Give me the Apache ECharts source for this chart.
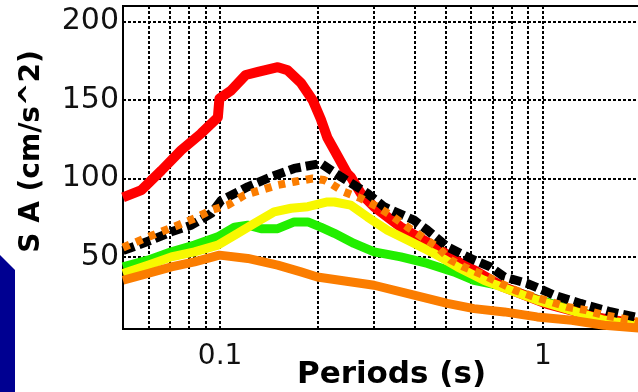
<!DOCTYPE html>
<html>
<head>
<meta charset="utf-8">
<script src="https://cdn.jsdelivr.net/npm/echarts@6/dist/echarts.min.js"></script>
<style>html,body{margin:0;padding:0;background:#fff}#c{width:638px;height:392px}</style>
</head>
<body>
<div id="c"></div>
<script>
// Period (s), SA (cm/s^2) pairs
const redSeries = [[0.05,88],[0.057,92.6],[0.0657,105],[0.0757,118],[0.0873,128.7],[0.0984,139],[0.0995,151],[0.108,156],[0.12,166],[0.131,168],[0.151,171],[0.162,169],[0.178,161],[0.1935,150],[0.205,138],[0.215,126],[0.226,118],[0.248,103],[0.254,101],[0.273,90.5],[0.3,82],[0.363,69],[0.45,58],[0.556,46],[0.612,41.5],[0.75,31],[1.03,20],[1.5,11],[2,7]];
const blackDashed = [[0.05,54],[0.0612,60.7],[0.0706,66],[0.0814,70.2],[0.0938,77.7],[0.1007,86],[0.1218,94.7],[0.1437,101],[0.1697,106.4],[0.2054,109.6],[0.237,101],[0.286,90.5],[0.322,82],[0.399,73.4],[0.439,67],[0.506,56.4],[0.612,48],[0.688,43.6],[0.76,37.2],[0.897,33],[1.085,25.6],[1.31,20.3],[1.62,15],[2,11]];
const orangeDotted = [[0.05,56],[0.0583,61.7],[0.0657,66],[0.074,70.2],[0.0833,74.5],[0.0938,79.8],[0.1056,83],[0.1189,89.4],[0.1339,92.6],[0.1508,95.8],[0.1697,97.9],[0.1935,100],[0.21,99],[0.22,96.8],[0.242,91.5],[0.273,87.3],[0.307,82],[0.338,76.6],[0.381,69],[0.47,56.4],[0.518,48],[0.569,43.6],[0.657,38.3],[0.742,33],[0.82,28.8],[0.94,24.5],[1.06,21.3],[1.19,18.1],[1.36,16],[1.55,12.8],[1.76,10.7],[2,8.5]];
const yellowSeries = [[0.05,39.4],[0.0597,44.7],[0.0706,50],[0.0833,53.2],[0.0984,57.5],[0.1134,65],[0.1277,71.3],[0.147,78.7],[0.166,81],[0.187,82],[0.215,85],[0.226,85],[0.254,83],[0.286,75.5],[0.33,67],[0.39,59.6],[0.46,52.2],[0.544,43.6],[0.657,35.1],[0.742,30.9],[0.96,22.4],[1.55,9.6],[2,6.4]];
const greenSeries = [[0.05,43.6],[0.0597,47.9],[0.0706,53.2],[0.0833,57.5],[0.0984,62.8],[0.1108,69],[0.1218,70.2],[0.1339,68],[0.1508,68],[0.1697,72.3],[0.187,72.3],[0.205,69],[0.226,65],[0.26,58.6],[0.3,53.2],[0.363,50],[0.439,45.8],[0.53,40.4],[0.612,35.1],[0.742,31.5],[0.96,23],[1.55,10.5],[2,7]];
const orangeSolid = [[0.05,35.1],[0.0597,39.4],[0.0706,43.6],[0.0833,46.8],[0.0995,51.1],[0.1218,49],[0.1508,44.7],[0.178,40.4],[0.2,37.2],[0.3,31.9],[0.399,25.6],[0.506,20.3],[0.612,17],[0.76,14.9],[0.96,11.7],[1.23,9.6],[1.55,6.4],[2,4.5]];

const xGridValues = [0.06,0.07,0.08,0.09,0.1,0.2,0.3,0.4,0.5,0.6,0.7,0.8,0.9,1];
const yTickValues = [50,100,150,200];
const xLabelValues = [0.1,1];

const chart = echarts.init(document.getElementById('c'), null, {renderer:'canvas'});
const gridLine = {color:'#000', type:[3,2], width:2};
function line(name, data, color, type, width, z) {
  return {name, type:'line', data, showSymbol:false, symbol:'none', z,
    lineStyle:{color, width, type, cap:'butt', join:'round'}, animation:false, silent:true};
}
const series = [
  {type:'line', data:[], z:1, silent:true, animation:false,
   markLine:{silent:true, animation:false, symbol:['none','none'], label:{show:false}, z:1,
     lineStyle:gridLine,
     data: xGridValues.map(v=>({xAxis:v})).concat(yTickValues.map(v=>({yAxis:v})))}},
  line('green', greenSeries, '#22ee00', 'solid', 9, 2),
  line('red', redSeries, '#ff0000', 'solid', 10, 3),
  line('yellow', yellowSeries, '#f8f800', 'solid', 9, 4),
  line('orange', orangeSolid, '#fb7d00', 'solid', 9, 5),
  line('black', blackDashed, '#000000', [12,5], 9, 6),
  line('orangeDotted', orangeDotted, '#fb7d00', [7,7], 8, 7)
];
chart.setOption({
  animation:false,
  backgroundColor:'#fff',
  grid:{left:123, top:6, right:-4, bottom:63, show:true, borderColor:'#000', borderWidth:2,
    containLabel:false, outerBoundsMode:'none'},
  xAxis:{type:'log', logBase:10, min:0.05, max:2.03,
    name:'Periods (s)', nameLocation:'middle', nameGap:30, nameMoveOverlap:false,
    nameTextStyle:{fontFamily:'DejaVu Sans', fontWeight:'bold', fontSize:31, color:'#000', padding:[0,0,0,18]},
    axisLine:{show:true, lineStyle:{color:'#000', width:2}},
    axisTick:{show:false}, splitLine:{show:false},
    axisLabel:{showMinLabel:false, showMaxLabel:false, fontFamily:'DejaVu Sans', fontSize:28, color:'#111', margin:14,
      formatter:v => xLabelValues.some(t=>Math.abs(t-v)<1e-9) ? String(v) : ''}},
  yAxis:{type:'value', min:4, max:210,
    name:'S A (cm/s^2)', nameLocation:'middle', nameGap:77, nameRotate:90, nameMoveOverlap:false,
    nameTextStyle:{fontFamily:'DejaVu Sans', fontWeight:'bold', fontSize:28, color:'#000', padding:[0,0,0,32]},
    axisLine:{show:true, lineStyle:{color:'#000', width:2}},
    axisTick:{show:false, customValues:yTickValues}, splitLine:{show:false},
    axisLabel:{customValues:yTickValues, fontFamily:'DejaVu Sans', fontSize:30, color:'#111', margin:4}},
  graphic:[{type:'polygon', left:0, top:255, z:100,
    shape:{points:[[0,0],[15,15],[15,137],[0,137]]}, style:{fill:'#000091'}}],
  series
});
</script>
</body>
</html>
